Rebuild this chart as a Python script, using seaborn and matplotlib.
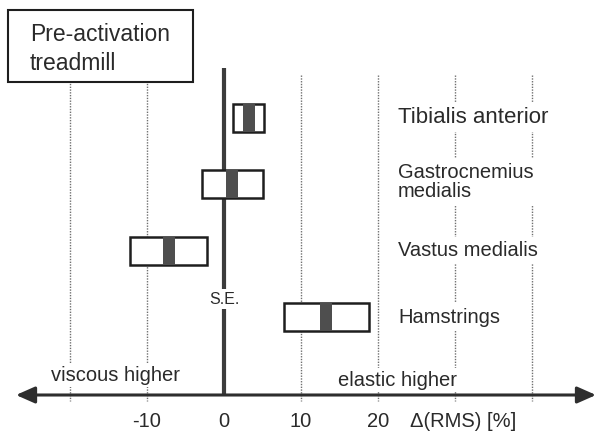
import numpy as np
import pandas as pd
import matplotlib
matplotlib.use("Agg")
import matplotlib.pyplot as plt
from matplotlib.path import Path
from matplotlib.patches import Rectangle
import seaborn as sns

# data
muscles = ["Tibialis anterior", "Gastrocnemius\nmedialis", "Vastus medialis", "Hamstrings"]
mean_change = [3.2, 1.1, -7.2, 13.3]
se_change = [2.0, 4.0, 5.0, 5.5]
tick_values = [-10, 0, 10, 20]
tick_labels = ["-10", "0", "10", "20"]
grid_values = [-20, -10, 10, 20, 30, 40]

df = pd.DataFrame({"muscle": muscles, "mean": mean_change, "se": se_change})
df["row"] = np.arange(len(df))
df["lo"] = df["mean"] - df["se"]

sns.set_theme(style="white")
plt.rcParams["font.family"] = ["Liberation Sans", "DejaVu Sans"]

# pixel layout helpers
W, H = 596, 432
X0_PX, PX_PER_UNIT = 224, 7.7
ROW0_PX, ROW_STEP_PX = 117.5, 66.5


def xpx(p):
    return (p - X0_PX) / PX_PER_UNIT


def ypx(p):
    return (p - ROW0_PX) / ROW_STEP_PX


ink = "#2a2a2a"
fig = plt.figure(figsize=(W / 100, H / 100), dpi=100)
ax = fig.add_axes([0, 0, 1, 1])

# dotted reference lines
ax.vlines(grid_values, ypx(75), ypx(401), colors="#707070", linewidth=1.0,
          linestyles=(0, (1, 1)), zorder=1)

# zero line
ax.vlines(0, ypx(68), ypx(395), colors="#3c3c3c", linewidth=3.0, zorder=2)

# S.E. boxes
box_h = 28 / ROW_STEP_PX
ax.barh(df["row"], 2 * df["se"], left=df["lo"], height=box_h,
        color="white", edgecolor="#1e1e1e", linewidth=1.8, zorder=3)

# mean bands
band = Path([(-0.2, -0.47), (0.2, -0.47), (0.2, 0.47), (-0.2, 0.47), (-0.2, -0.47)],
            [Path.MOVETO, Path.LINETO, Path.LINETO, Path.LINETO, Path.CLOSEPOLY])
sns.scatterplot(data=df, x="mean", y="row", marker=band, s=(28 * 0.72) ** 2,
                color="#4e4e4e", linewidth=0, zorder=4, ax=ax, legend=False)
ax.set_xlim(xpx(0), xpx(W))
ax.set_ylim(ypx(H), ypx(0))
ax.axis("off")

# muscle labels
for i, name in enumerate(muscles):
    ax.text(xpx(398), i - 0.03 * (i == 1), name, ha="left", va="center",
            fontsize=16 if i == 0 else 14.5, color=ink, linespacing=1.05,
            bbox=dict(fc="white", ec="none", pad=3), zorder=5)

ax.text(0, ypx(299), "S.E.", ha="center", va="center", fontsize=11.5, color=ink,
        bbox=dict(fc="white", ec="none", pad=2), zorder=5)

# title box
ax.add_patch(Rectangle((xpx(8), ypx(82)), (193 - 8) / PX_PER_UNIT, ypx(10) - ypx(82),
                       fc="white", ec="#1e1e1e", lw=1.5, zorder=6))
ax.text(xpx(30), ypx(49), "Pre-activation\ntreadmill", ha="left", va="center",
        fontsize=16.5, color=ink, linespacing=1.35, zorder=7)

# direction labels
ax.text(xpx(115), ypx(375), "viscous higher", ha="center", va="center",
        fontsize=14.5, color=ink, bbox=dict(fc="white", ec="none", pad=2), zorder=5)
ax.text(xpx(398), ypx(380), "elastic higher", ha="center", va="center",
        fontsize=14.5, color=ink, bbox=dict(fc="white", ec="none", pad=2), zorder=5)

# double arrow axis
ax.annotate("", xy=(xpx(596), ypx(395)), xytext=(xpx(16), ypx(395)),
            arrowprops=dict(arrowstyle="<|-|>,head_length=0.95,head_width=0.42",
                            color="#2e2e2e", lw=2.2, shrinkA=0, shrinkB=0),
            zorder=8)

for v, lab in zip(tick_values, tick_labels):
    ax.text(v, ypx(421), lab, ha="center", va="center", fontsize=14.5, color=ink)
ax.text(xpx(410), ypx(421), "\u0394(RMS) [%]", ha="left", va="center",
        fontsize=14.5, color=ink)

fig.savefig("out.png", dpi=100)
